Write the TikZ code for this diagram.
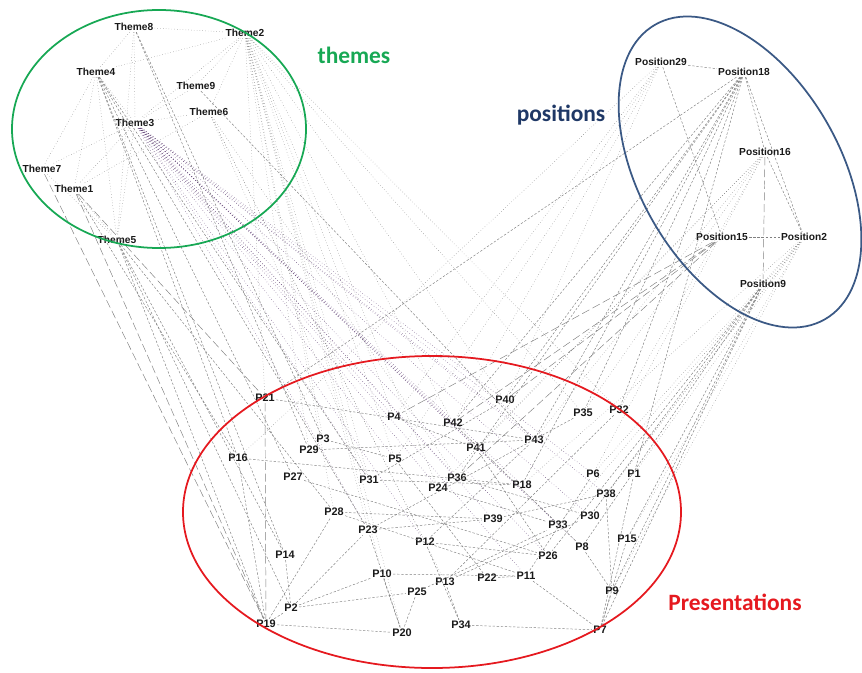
\documentclass[tikz,border=0pt]{standalone}
\usepackage{fontspec}
\setsansfont{Liberation Sans}
\newfontfamily\calfont{Carlito}
\colorlet{ecol}{black!50!white}
\definecolor{colT}{rgb}{.38,.26,.46}
\definecolor{colG}{rgb}{.09,.66,.33}
\definecolor{colN}{rgb}{.12,.22,.40}
\definecolor{colBl}{rgb}{.23,.35,.52}
\definecolor{colR}{rgb}{.90,.10,.12}
\tikzstyle{lab}=[inner sep=1pt, font=\sffamily\bfseries\fontsize{8.7}{9}\selectfont, text=black!90]
\tikzstyle{plab}=[lab, font=\sffamily\bfseries\fontsize{9.3}{10}\selectfont]
\tikzstyle{edge}=[thin,ecol,dash pattern=on 2pt off 1.5pt]
\tikzstyle{dedge}=[edge,dotted]
\tikzstyle{ledge}=[edge,dash pattern=on 7pt off 3pt]
\tikzstyle{tedge}=[thin,colT,dotted]
\tikzstyle{group}=[line width=1.5pt]
\tikzstyle{glab}=[font=\calfont\bfseries\fontsize{20}{20}\selectfont]

\begin{document}
\begin{tikzpicture}[x=0.03cm,y=-0.03cm]
	\useasboundingbox (0,0) rectangle (862,673);
	% themes
	\node[lab] (t8) at (134,27) {Theme8};
	\node[lab] (t2) at (245,33) {Theme2};
	\node[lab] (t4) at (96,72) {Theme4};
	\node[lab] (t9) at (196,86) {Theme9};
	\node[lab] (t6) at (209,112) {Theme6};
	\node[lab] (t3) at (135,123) {Theme3};
	\node[lab] (t7) at (42,169) {Theme7};
	\node[lab] (t1) at (74,189) {Theme1};
	\node[lab] (t5) at (117,240) {Theme5};
	% positions
	\node[lab] (q29) at (661,62) {Position29};
	\node[lab] (q18) at (744,72) {Position18};
	\node[lab] (q16) at (765,152) {Position16};
	\node[lab] (q15) at (722,237) {Position15};
	\node[lab] (q2) at (804,237) {Position2};
	\node[lab] (q9) at (763,284) {Position9};
	% presentations
	\node[plab] (p21) at (265,398) {P21};
	\node[plab] (p4) at (394,417) {P4};
	\node[plab] (p42) at (453,423) {P42};
	\node[plab] (p40) at (505,400) {P40};
	\node[plab] (p35) at (583,413) {P35};
	\node[plab] (p32) at (619,410) {P32};
	\node[plab] (p3) at (323,439) {P3};
	\node[plab] (p29) at (309,450) {P29};
	\node[plab] (p16) at (238,458) {P16};
	\node[plab] (p41) at (476,448) {P41};
	\node[plab] (p43) at (534,440) {P43};
	\node[plab] (p5) at (395,459) {P5};
	\node[plab] (p27) at (293,477) {P27};
	\node[plab] (p31) at (369,480) {P31};
	\node[plab] (p36) at (457,478) {P36};
	\node[plab] (p24) at (438,488) {P24};
	\node[plab] (p18) at (522,485) {P18};
	\node[plab] (p6) at (593,474) {P6};
	\node[plab] (p1) at (634,474) {P1};
	\node[plab] (p38) at (606,494) {P38};
	\node[plab] (p28) at (334,512) {P28};
	\node[plab] (p23) at (368,530) {P23};
	\node[plab] (p39) at (493,519) {P39};
	\node[plab] (p30) at (590,516) {P30};
	\node[plab] (p33) at (558,525) {P33};
	\node[plab] (p12) at (425,542) {P12};
	\node[plab] (p15) at (627,539) {P15};
	\node[plab] (p8) at (582,547) {P8};
	\node[plab] (p26) at (548,556) {P26};
	\node[plab] (p14) at (285,555) {P14};
	\node[plab] (p10) at (382,574) {P10};
	\node[plab] (p22) at (487,578) {P22};
	\node[plab] (p11) at (526,576) {P11};
	\node[plab] (p13) at (445,582) {P13};
	\node[plab] (p25) at (417,592) {P25};
	\node[plab] (p9) at (612,591) {P9};
	\node[plab] (p2) at (291,608) {P2};
	\node[plab] (p19) at (266,624) {P19};
	\node[plab] (p20) at (402,633) {P20};
	\node[plab] (p34) at (461,625) {P34};
	\node[plab] (p7) at (600,630) {P7};
	% links inside the groups
	\draw[dedge] (t8)edge(t2) (t8)edge(t4) (t8)edge(t3) (t8)edge(t5) (t2)edge(t4) (t2)edge(t9) (t2)edge(t3) (t2)edge(t6)
		(t4)edge(t7) (t4)edge(t1) (t4)edge(t5) (t4)edge(t3) (t3)edge(t7) (t3)edge(t1) (t3)edge(t5) (t3)edge(t6)
		(t1)edge(t5) (t7)edge(t5) (t6)edge(t1) (t9)edge(t3);
	\draw[edge] (q29)edge(q18) (q29)edge(q15) (q18)edge(q16) (q18)edge(q2) (q16)edge(q2) (q15)edge(q2);
	\draw[ledge] (q16)edge(q9);
	% theme links
	\foreach \p in {p42,p40,p43,p18,p6,p36,p41,p31,p39,p33,p30,p24,p12,p23,p11,p26,p8,p38,p5,p4}
		\draw[tedge] (t3)--(\p);
	\foreach \p in {p21,p31,p40,p32,p35,p5,p20,p10,p23,p3,p29,p28,p24,p4,p42}
		\draw[dedge] (t2)--(\p);
	\foreach \p in {p16,p27,p14,p31,p23}
		\draw[edge] (t4)--(\p);
	\foreach \p in {p19,p14,p2,p28}
		\draw[edge] (t5)--(\p);
	\foreach \p in {p12,p31,p36,p13}
		\draw[dedge] (t6)--(\p);
	\draw[ledge] (t1)edge(p19) (t7)edge(p19) (t1)edge(p21);
	\draw[edge] (t8)edge(p29) (t8)edge(p3) (t9)edge(p43) (t1)edge(p16);
	% position links
	\foreach \p in {p40,p35,p32,p1,p43,p42,p18,p21,p36}
		\draw[edge] (q18)--(\p);
	\foreach \p in {p35,p32,p43,p6,p41,p24}
		\draw[dedge] (q16)--(\p);
	\foreach \p in {p1,p15,p38,p6,p30,p9,p33,p18}
		\draw[dedge] (q2)--(\p);
	\foreach \p in {p15,p9,p7,p30,p8,p26}
		\draw[edge] (q9)--(\p);
	\foreach \p in {p40,p42,p36,p4}
		\draw[ledge] (q15)--(\p);
	\foreach \p in {p42,p40,p16,p4,p5}
		\draw[dedge] (q29)--(\p);
	% presentation links
	\draw[edge] (p19)edge(p2) (p19)edge(p20) (p2)edge(p23) (p2)edge(p10) (p2)edge(p25) (p19)edge(p28) (p14)edge(p2)
		(p16)edge(p18) (p34)edge(p7) (p11)edge(p7) (p9)edge(p7) (p8)edge(p9) (p13)edge(p34) (p22)edge(p11)
		(p12)edge(p26) (p10)edge(p20) (p23)edge(p20) (p25)edge(p20) (p21)edge(p43) (p3)edge(p5) (p29)edge(p43)
		(p27)edge(p26) (p28)edge(p39) (p31)edge(p18) (p4)edge(p41) (p24)edge(p33) (p36)edge(p30) (p42)edge(p8)
		(p41)edge(p26) (p1)edge(p7) (p15)edge(p7) (p38)edge(p9) (p6)edge(p11) (p40)edge(p31) (p35)edge(p23)
		(p32)edge(p13) (p43)edge(p12) (p5)edge(p22) (p39)edge(p38) (p16)edge(p19) (p10)edge(p11)
		(p23)edge(p39) (p28)edge(p11) (p12)edge(p34) (p25)edge(p33) (p13)edge(p30);
	\draw[ledge] (p21)edge(p19);
	% groups
	\draw[group,colG] (159,129) ellipse [x radius=4.41cm, y radius=3.57cm];
	\draw[group,colBl,rotate around={-60:(740,172)}] (740,172) ellipse [x radius=5.1cm, y radius=3cm];
	\draw[group,colR] (432,512) ellipse [x radius=7.47cm, y radius=4.68cm];
	\node[glab,colG] (gt) at (354,55) {themes};
	\node[glab,colN] (gp) at (561,115) {positions};
	\node[glab,colR] (gr) at (735,602) {Presentations};
\end{tikzpicture}
\end{document}
